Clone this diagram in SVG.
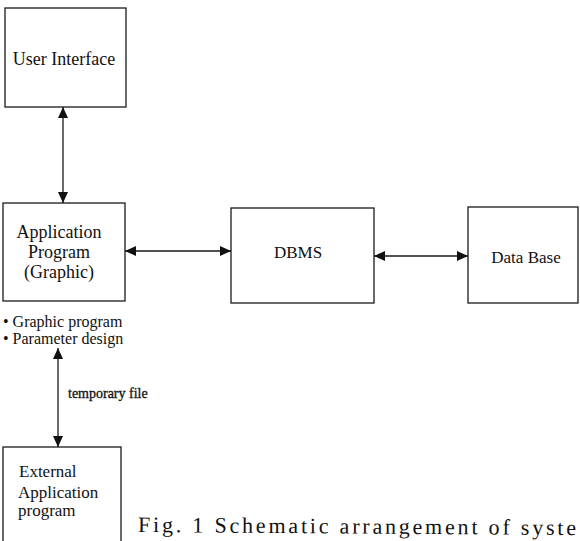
<svg xmlns="http://www.w3.org/2000/svg" width="580" height="541" viewBox="0 0 580 541">
<style>
.box{fill:none;stroke:#1a1a1a;stroke-width:1.3}
.t{font-family:"Liberation Serif","Times New Roman",serif;fill:#111}
.c{stroke:#1a1a1a;stroke-width:1.3;fill:none}
</style>
<defs>
<marker id="ah" viewBox="0 0 11 10" refX="11" refY="5" markerWidth="11" markerHeight="10" markerUnits="userSpaceOnUse" orient="auto-start-reverse">
<path d="M0,0 L11,5 L0,10 z" fill="#111"/>
</marker>
</defs>
<rect width="580" height="541" fill="#fff"/>
<g id="ui">
<rect class="box" x="5" y="8" width="121" height="99"/>
<text class="t" x="64" y="65" font-size="18" text-anchor="middle">User  Interface</text>
</g>
<g id="app">
<rect class="box" x="3" y="203" width="122" height="98"/>
<text class="t" x="59" y="238" font-size="18" text-anchor="middle">Application</text>
<text class="t" x="59" y="258" font-size="18" text-anchor="middle">Program</text>
<text class="t" x="59" y="278" font-size="18" text-anchor="middle">(Graphic)</text>
</g>
<g id="dbms">
<rect class="box" x="231" y="208" width="143" height="95"/>
<text class="t" x="298" y="258" font-size="17" text-anchor="middle">DBMS</text>
</g>
<g id="database">
<rect class="box" x="468" y="207" width="110" height="96"/>
<text class="t" x="526" y="263" font-size="17" text-anchor="middle">Data Base</text>
</g>
<g id="notes">
<text class="t" x="3" y="327" font-size="16">• Graphic program</text>
<text class="t" x="3" y="344" font-size="16">• Parameter design</text>
</g>
<g id="external">
<rect class="box" x="3" y="447" width="118" height="100"/>
<text class="t" x="19" y="477" font-size="17">External</text>
<text class="t" x="18" y="498" font-size="17">Application</text>
<text class="t" x="18" y="516" font-size="17">program</text>
</g>
<g id="connectors">
<line class="c" x1="63" y1="107" x2="63" y2="203" marker-start="url(#ah)" marker-end="url(#ah)"/>
<line class="c" x1="125" y1="251" x2="231" y2="251" marker-start="url(#ah)" marker-end="url(#ah)"/>
<line class="c" x1="374" y1="256" x2="468" y2="256" marker-start="url(#ah)" marker-end="url(#ah)"/>
<line class="c" x1="58" y1="348" x2="58" y2="447" marker-start="url(#ah)" marker-end="url(#ah)"/>
<text class="t" x="68" y="398" font-size="14" stroke="#111" stroke-width="0.3">temporary file</text>
</g>
<text class="t" x="138" y="532" font-size="22" letter-spacing="2.8" transform="rotate(0.4 138 532)">Fig. 1 Schematic arrangement of syste</text>
</svg>
